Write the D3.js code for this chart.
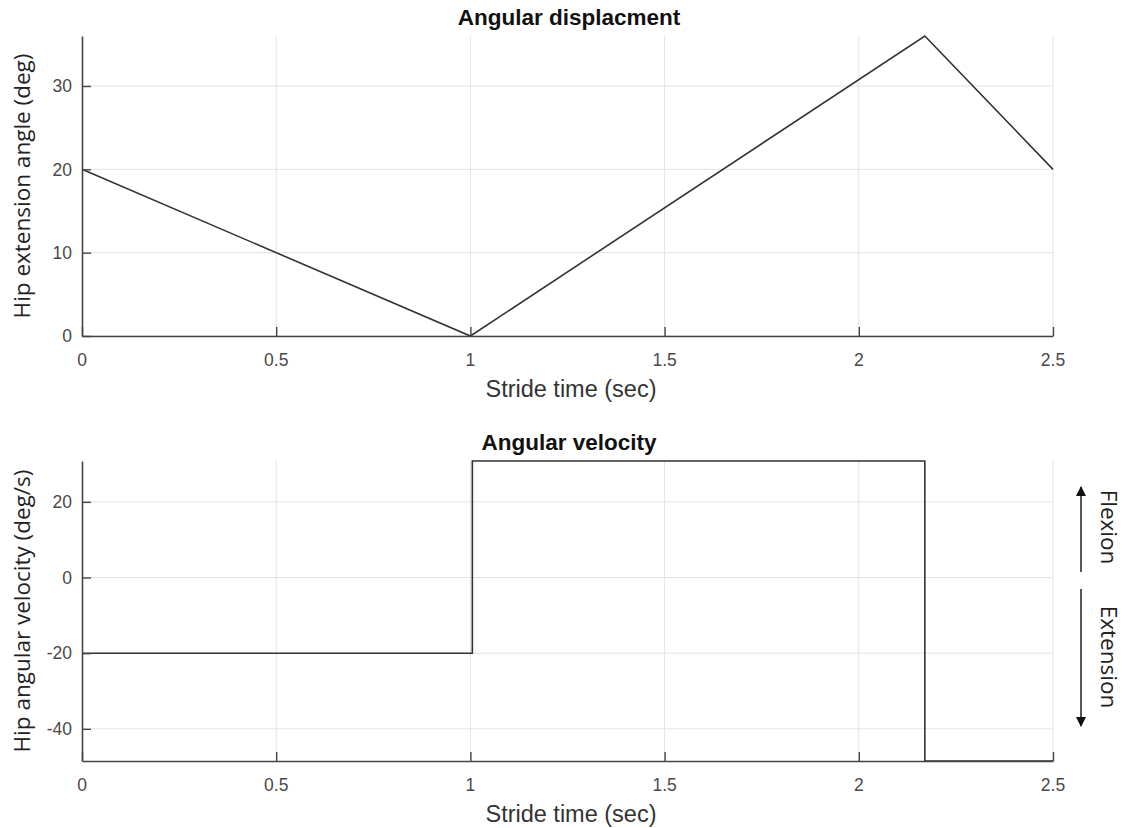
<!DOCTYPE html>
<html>
<head>
<meta charset="utf-8">
<script src="https://cdn.jsdelivr.net/npm/d3@7"></script>
<style>
  body { margin: 0; background: #fff; }
  .grid line { stroke: #e3e3e3; stroke-width: 1; }
  .tick-label { font-family: "Liberation Sans", Arial, sans-serif; font-size: 17.5px; fill: #4a4a4a; }
  .title { font-family: "Liberation Sans", Arial, sans-serif; font-size: 22.5px; font-weight: bold; fill: #111; }
  .xlabel { font-family: "Liberation Sans", Arial, sans-serif; font-size: 23.5px; fill: #333; }
  .ylabel, .note { font-family: "Open Sans", sans-serif; font-size: 22.5px; fill: #222; }
</style>
</head>
<body>
<svg id="chart" width="1128" height="828"></svg>
<script>
// datos
const dispTime = [0, 1, 2.17, 2.5];
const dispAngle = [20, 0, 36, 20];

const velTime = [0, 1.005, 2.17, 2.5];
const velValue = [-20, 30.8, -48.5, -48.5];

const xTicks = [0, 0.5, 1, 1.5, 2, 2.5];
const dispTicks = [0, 10, 20, 30];
const velTicks = [-40, -20, 0, 20];

let svg = d3.select("#chart");

let x = d3.scaleLinear().domain([0, 2.5]).range([82, 1053]);

// dibuja un panel completo (rejilla, ejes, linea)
function panel(opts) {
    let y = d3.scaleLinear().domain(opts.domain).range([opts.bottom, opts.top]);
    let g = svg.append("g");

    // rejilla
    let grid = g.append("g").attr("class", "grid");
    grid.selectAll(".vx").data(xTicks.slice(1)).enter().append("line")
        .attr("x1", d => x(d)).attr("x2", d => x(d))
        .attr("y1", opts.top).attr("y2", opts.bottom);
    grid.selectAll(".hy").data(opts.yTicks).enter().append("line")
        .attr("x1", x(0)).attr("x2", x(2.5))
        .attr("y1", d => y(d)).attr("y2", d => y(d));

    // linea de datos
    let pts = opts.xs.map((d, i) => [d, opts.ys[i]]);
    let line = d3.line()
        .x(d => x(d[0]))
        .y(d => y(d[1]))
        .curve(opts.step ? d3.curveStepAfter : d3.curveLinear);
    g.append("path")
        .datum(pts)
        .attr("d", line)
        .attr("fill", "none")
        .attr("stroke", "#333")
        .attr("stroke-width", 1.6);

    // ejes con ticks hacia dentro
    let xAxis = d3.axisBottom(x).tickValues(xTicks).tickSizeInner(-9).tickSizeOuter(0).tickFormat("");
    let ax = g.append("g").attr("transform", "translate(0," + opts.bottom + ")").call(xAxis);
    let yAxis = d3.axisLeft(y).tickValues(opts.yTicks).tickSizeInner(-9).tickSizeOuter(0).tickFormat("");
    let ay = g.append("g").attr("transform", "translate(" + x(0) + ",0)").call(yAxis);
    [ax, ay].forEach(a => {
        a.select(".domain").attr("stroke", "#444").attr("stroke-width", 1.6);
        a.selectAll(".tick line").attr("stroke", "#444").attr("stroke-width", 1.4);
    });

    // etiquetas de ticks
    g.selectAll(".xt").data(xTicks).enter().append("text")
        .attr("class", "tick-label")
        .attr("x", d => x(d))
        .attr("y", opts.bottom + 30)
        .attr("text-anchor", "middle")
        .text(d => String(d));
    g.selectAll(".yt").data(opts.yTicks).enter().append("text")
        .attr("class", "tick-label")
        .attr("x", 72)
        .attr("y", d => y(d))
        .attr("dy", "0.36em")
        .attr("text-anchor", "end")
        .text(d => String(d));

    // titulos
    g.append("text").attr("class", "title")
        .attr("x", 569).attr("y", opts.top - 11)
        .attr("text-anchor", "middle").text(opts.title);
    g.append("text").attr("class", "xlabel")
        .attr("x", 571).attr("y", opts.bottom + 61)
        .attr("text-anchor", "middle").text("Stride time (sec)");
    g.append("text").attr("class", "ylabel")
        .attr("transform", "translate(30," + ((opts.top + opts.bottom) / 2) + ") rotate(-90)")
        .attr("text-anchor", "middle").text(opts.ylabel);

    return y;
}

panel({
    domain: [0, 36], top: 36, bottom: 336,
    yTicks: dispTicks, xs: dispTime, ys: dispAngle,
    title: "Angular displacment", ylabel: "Hip extension angle (deg)"
});

panel({
    domain: d3.extent(velValue), top: 461, bottom: 761, step: true,
    yTicks: velTicks, xs: velTime, ys: velValue,
    title: "Angular velocity", ylabel: "Hip angular velocity (deg/s)"
});

// flechas de flexion / extension
let defs = svg.append("defs");
defs.append("marker")
    .attr("id", "head")
    .attr("viewBox", "0 0 10 10")
    .attr("refX", 9).attr("refY", 5)
    .attr("markerWidth", 10).attr("markerHeight", 10)
    .attr("markerUnits", "userSpaceOnUse")
    .attr("orient", "auto")
    .append("path").attr("d", "M0,0L10,5L0,10Z").attr("fill", "#111");

svg.append("line")
    .attr("x1", 1081).attr("x2", 1081).attr("y1", 572).attr("y2", 487)
    .attr("stroke", "#111").attr("stroke-width", 1.4).attr("marker-end", "url(#head)");
svg.append("line")
    .attr("x1", 1081).attr("x2", 1081).attr("y1", 589).attr("y2", 726)
    .attr("stroke", "#111").attr("stroke-width", 1.4).attr("marker-end", "url(#head)");

svg.append("text").attr("class", "note")
    .attr("transform", "translate(1101,527) rotate(90)")
    .attr("text-anchor", "middle").text("Flexion");
svg.append("text").attr("class", "note")
    .attr("transform", "translate(1101,657) rotate(90)")
    .attr("text-anchor", "middle").text("Extension");
</script>
</body>
</html>
